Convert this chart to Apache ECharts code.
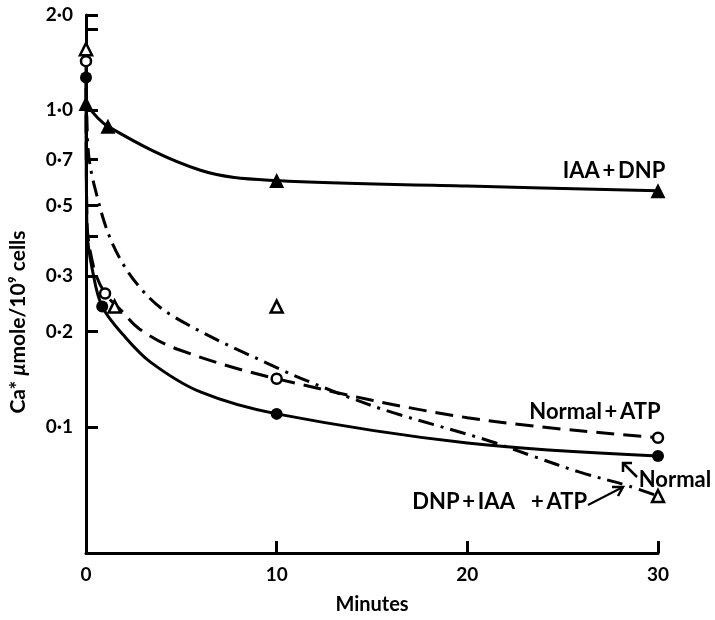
<!DOCTYPE html>
<html><head><meta charset="utf-8">
<script src="https://cdn.jsdelivr.net/npm/echarts@6/dist/echarts.min.js"></script>
<style>html,body{margin:0;padding:0;background:#fff}#c{width:715px;height:620px}</style>
</head><body><div id="c"></div>
<script>
// Axis ticks
const xTickValues = [0, 10, 20, 30];
const yLabelValues = [2.0, 1.0, 0.7, 0.5, 0.3, 0.2, 0.1];
const yTickValues = [2.0, 1.8, 1.0, 0.7, 0.5, 0.4, 0.3, 0.2, 0.1];

// Measured points [minutes, Ca* µmole/10^9 cells]
const normalPts     = [[0, 1.27], [0.85, 0.24], [10, 0.110], [30, 0.081]];
const normalAtpPts  = [[0, 1.43], [1.0, 0.264], [10, 0.142], [30, 0.0925]];
const dnpIaaAtpPts  = [[0, 1.56], [1.5, 0.24], [10, 0.24], [30, 0.0605]];
const iaaDnpPts     = [[0, 1.05], [1.15, 0.89], [10, 0.60], [30, 0.557]];

// Fitted curves as drawn in the figure
const normalCurve    = [[0, 1.27], [0.05, 0.42], [0.35, 0.31], [0.85, 0.24], [2, 0.194], [3.4, 0.16], [6, 0.129], [10, 0.110], [20, 0.089], [30, 0.081]];
const normalAtpCurve = [[0, 1.43], [0.05, 0.45], [0.4, 0.32], [1.0, 0.264], [1.8, 0.235], [2.8, 0.204], [4.8, 0.176], [10, 0.142], [20, 0.107], [30, 0.0925]];
const dnpIaaAtpCurve = [[0, 1.56], [0.1, 0.77], [0.47, 0.568], [1.4, 0.378], [2.8, 0.277], [4.6, 0.223], [10, 0.154], [13.5, 0.126], [16.1, 0.111], [21, 0.091], [23.4, 0.081], [25.9, 0.072], [28.5, 0.065], [30, 0.0605]];
const iaaDnpCurve    = [[0, 1.05], [1.15, 0.89], [6, 0.647], [10, 0.60], [20, 0.577], [30, 0.557]];

const FONT = 'Lato, "DejaVu Sans", sans-serif';
const chart = echarts.init(document.getElementById('c'), null, {renderer: 'canvas'});

function curve(data, type) {
  return {type: 'line', data: data, smooth: 0.35, showSymbol: false, symbol: 'none',
    lineStyle: {color: '#000', width: 3, type: type, opacity: 1}, z: 2, silent: true, animation: false};
}
function pts(data, symbol, size, filled) {
  return {type: 'scatter', data: data, symbol: symbol, symbolSize: size, z: 5, animation: false, silent: true,
    itemStyle: filled ? {color: '#000', opacity: 1} : {color: '#fff', borderColor: '#000', borderWidth: 2.5, opacity: 1}};
}
const T = '\u2009';
const annot = (text, x, y, align) => ({type: 'text', x: x, y: y,
  style: {text: text, fontFamily: FONT, fontWeight: 'bold', fontSize: 22, fill: '#000', align: align, verticalAlign: 'middle'}});

const option = {
  backgroundColor: '#fff',
  animation: false,
  grid: {left: 86, right: 57, top: 15, bottom: 60},
  xAxis: {
    type: 'value', min: 0, max: 30, interval: 10,
    name: 'Minutes', nameLocation: 'middle', nameGap: 42,
    nameTextStyle: {fontFamily: FONT, fontWeight: 'bold', fontSize: 20, color: '#000'},
    axisLine: {lineStyle: {color: '#000', width: 3}},
    axisTick: {inside: true, length: 12, lineStyle: {color: '#000', width: 3}},
    axisLabel: {fontFamily: FONT, fontWeight: 'bold', fontSize: 19, color: '#000', margin: 12},
    splitLine: {show: false}
  },
  yAxis: {
    type: 'log', logBase: 10, min: 0.04, max: 2.0,
    axisLine: {lineStyle: {color: '#000', width: 3}},
    axisTick: {inside: true, length: 12, customValues: yTickValues, lineStyle: {color: '#000', width: 3}},
    axisLabel: {fontFamily: FONT, fontWeight: 'bold', fontSize: 19, color: '#000', margin: 13,
      customValues: yLabelValues,
      formatter: v => Number(v).toFixed(1).replace('.', '·')},
    splitLine: {show: false}, minorTick: {show: false}
  },
  series: [
    curve(iaaDnpCurve, 'solid'),
    curve(normalCurve, 'solid'),
    curve(normalAtpCurve, [18, 9]),
    curve(dnpIaaAtpCurve, [16, 7, 3, 7]),
    pts(iaaDnpPts, 'triangle', 15, true),
    pts(normalPts, 'circle', 12, true),
    pts(normalAtpPts, 'circle', 10, false),
    pts(dnpIaaAtpPts, 'triangle', 12, false)
  ],
  graphic: [
    {type: 'text', x: 18, y: 322, rotation: Math.PI / 2,
      style: {text: 'Ca* {i|μ}mole/10⁹ cells', fontFamily: FONT, fontWeight: 'bold', fontSize: 21, fill: '#000',
        align: 'center', verticalAlign: 'middle',
        rich: {i: {fontStyle: 'italic', fontFamily: FONT, fontWeight: 'bold', fontSize: 21, fill: '#000'}}}},
    annot('IAA' + T + '+' + T + 'DNP', 614, 171, 'center'),
    annot('Normal' + T + '+' + T + 'ATP', 595, 412, 'center'),
    annot('Normal', 675, 480, 'center'),
    annot('DNP' + T + '+' + T + 'IAA   +' + T + 'ATP', 587, 502, 'right'),
    {type: 'line', shape: {x1: 637, y1: 477, x2: 623, y2: 463}, style: {stroke: '#000', lineWidth: 2.5}},
    {type: 'polyline', shape: {points: [[623, 472], [623, 463], [632, 463]]}, style: {stroke: '#000', lineWidth: 2.5, fill: null}},
    {type: 'line', shape: {x1: 588, y1: 505, x2: 623, y2: 487}, style: {stroke: '#000', lineWidth: 2}},
    {type: 'polyline', shape: {points: [[612, 487], [623, 487], [618, 496]]}, style: {stroke: '#000', lineWidth: 2.5, fill: null}}
  ]
};
chart.setOption(option);
</script>
</body></html>
